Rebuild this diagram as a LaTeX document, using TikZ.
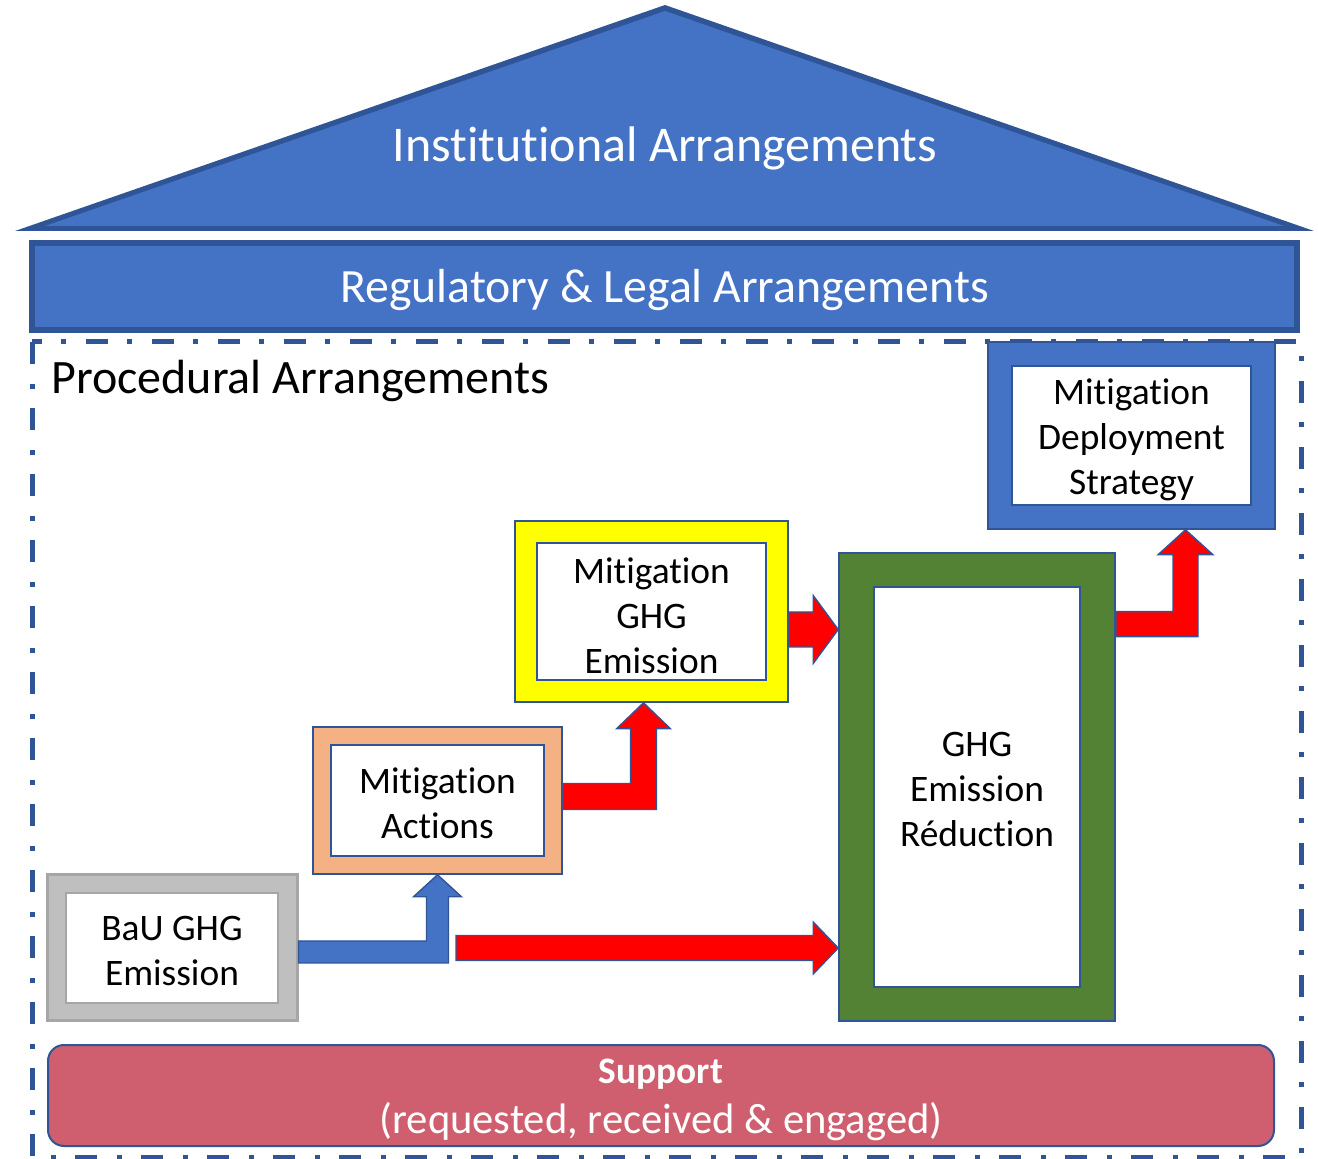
\documentclass[tikz,border=0pt]{standalone}
\usepackage{fontspec}
\setmainfont{Carlito}[Ligatures=NoCommon]
\usetikzlibrary{calc}

\definecolor{blu}{HTML}{4472C4}
\definecolor{blusc}{HTML}{2F5597}
\definecolor{giallo}{HTML}{FFFF00}
\definecolor{arancio}{HTML}{F4B183}
\definecolor{grigio}{HTML}{BFBFBF}
\definecolor{grigiosc}{HTML}{A6A6A6}
\definecolor{verde}{HTML}{548235}
\definecolor{rosso}{HTML}{FF0000}
\definecolor{rosa}{HTML}{CF5F6F}

\tikzset{
  cornice/.style={draw=blusc, line width=0.8pt, inner sep=0pt},
  scatola/.style={draw=blusc, fill=white, line width=0.8pt, inner sep=0pt},
  testo/.style={inner sep=0pt, align=center, font=\fontsize{18.7}{22.5}\selectfont},
  freccia/.style={draw=blusc, line width=0.7pt, line join=miter},
}

% freccia piegata verso l'alto: colore, partenza, punta, mezza asta, mezza testa, lunghezza testa
\newcommand{\frecciasu}[6]{%
  \filldraw[freccia, fill=#1] let \p1=#2, \p2=#3 in
    (\x1,\y1-#4) -- (\x2+#4,\y1-#4) -- (\x2+#4,\y2-#6) -- (\x2+#5,\y2-#6) -- (\x2,\y2)
    -- (\x2-#5,\y2-#6) -- (\x2-#4,\y2-#6) -- (\x2-#4,\y1+#4) -- (\x1,\y1+#4) -- cycle;}

% freccia dritta verso destra
\newcommand{\frecciadx}[6]{%
  \filldraw[freccia, fill=#1] let \p1=#2, \p2=#3 in
    (\x1,\y1+#4) -- (\x2-#6,\y1+#4) -- (\x2-#6,\y1+#5) -- (\x2,\y1)
    -- (\x2-#6,\y1-#5) -- (\x2-#6,\y1-#4) -- (\x1,\y1-#4) -- cycle;}

\begin{document}
\begin{tikzpicture}[x=0.5pt, y=-0.5pt]
\useasboundingbox (0,0) rectangle (1318,1159);

        % Tetto
        \fill[blusc] (15,231) -- (665,5) -- (1314,231) -- cycle;
        \fill[blu] (45,226) -- (665,11) -- (1284,226) -- cycle;
        \node[text=white, font=\fontsize{25}{30}\selectfont] (inst) at (665,148) {Institutional Arrangements};

        % Fascia regolatoria
        \node[draw=blusc, fill=blu, line width=3pt, minimum width=632.5pt, minimum height=43.5pt] (reg) at (664.5,286.5) {};
        \node[text=white, font=\fontsize{23.9}{28}\selectfont] (regtxt) at ([yshift=-2pt]reg) {Regulatory \& Legal Arrangements};

        % Cornice procedurale
        \draw[blusc, line width=2.5pt, dash pattern=on 11pt off 10pt on 2.5pt off 9.5pt] (32,342) rectangle (1301,1157);
        \node[anchor=west, inner sep=0pt, font=\fontsize{24}{28}\selectfont] (proc) at (51,381) {Procedural Arrangements};

        % Strategia
        \node[cornice, fill=blu, minimum width=143.5pt, minimum height=93.5pt] (dep) at (1131.5,435.5) {};
        \node[scatola, minimum width=119.5pt, minimum height=69.5pt] (depin) at (dep) {};
        \node[testo] (deptxt) at ([yshift=-2pt]depin) {Mitigation\\Deployment\\Strategy};

        % Emissioni di mitigazione
        \node[cornice, fill=giallo, minimum width=136.5pt, minimum height=90.5pt] (yel) at (651.5,611.5) {};
        \node[scatola, minimum width=114.5pt, minimum height=68.5pt] (yelin) at (yel) {};
        \node[testo] (yeltxt) at ([yshift=-2pt]yelin) {Mitigation\\GHG\\Emission};

        % Azioni
        \node[cornice, fill=arancio, minimum width=124.5pt, minimum height=73.5pt] (act) at (437.5,800.5) {};
        \node[scatola, minimum width=106.5pt, minimum height=55.5pt] (actin) at (act) {};
        \node[testo] (acttxt) at ([yshift=-1.5pt]actin) {Mitigation\\Actions};

        % BaU
        \node[cornice, draw=grigiosc, line width=1.5pt, fill=grigio, minimum width=125pt, minimum height=73pt] (bau) at (172,948) {};
        \node[scatola, draw=grigiosc, line width=1.2pt, minimum width=106pt, minimum height=55pt] (bauin) at (bau) {};
        \node[testo] (bautxt) at ([yshift=-1.5pt]bauin) {BaU GHG\\Emission};

        % Riduzione
        \node[cornice, fill=verde, minimum width=138pt, minimum height=234pt] (ghg) at (977,787) {};
        \node[scatola, minimum width=103pt, minimum height=200pt] (ghgin) at (ghg) {};
        \node[testo] (ghgtxt) at ([yshift=-1.5pt]ghgin) {GHG\\Emission\\Réduction};

        % Supporto
        \node[draw=blusc, line width=1pt, fill=rosa, rounded corners=8pt, minimum width=613pt, minimum height=50.5pt] (sup) at (661,1095.5) {};
        \node[text=white, inner sep=0pt, font=\fontsize{18.7}{22}\bfseries\selectfont] (suptit) at (661,1074) {Support};
        \node[text=white, inner sep=0pt, font=\fontsize{21.3}{24}\selectfont] (supsub) at (661,1122) {(requested, received \& engaged)};

        % Frecce
        \frecciasu{blu}{([yshift=-2pt]bau.east)}{(act.south)}{5.5pt}{12pt}{11pt}
        \coordinate (lr) at (456,948);
        \frecciadx{rosso}{(lr)}{(ghg.west |- lr)}{6.25pt}{13pt}{12.5pt}
        \frecciasu{rosso}{([yshift=2pt]act.east)}{([xshift=-4pt]yel.south)}{6.5pt}{13.5pt}{13pt}
        \coordinate (ys) at ([yshift=-9pt]yel.east);
        \frecciadx{rosso}{(ys)}{(ghg.west |- ys)}{8.75pt}{17pt}{12.5pt}
        \frecciasu{rosso}{([yshift=-36pt]ghg.north east)}{([xshift=27pt]dep.south)}{6.25pt}{13.75pt}{12.5pt}

\end{tikzpicture}
\end{document}
